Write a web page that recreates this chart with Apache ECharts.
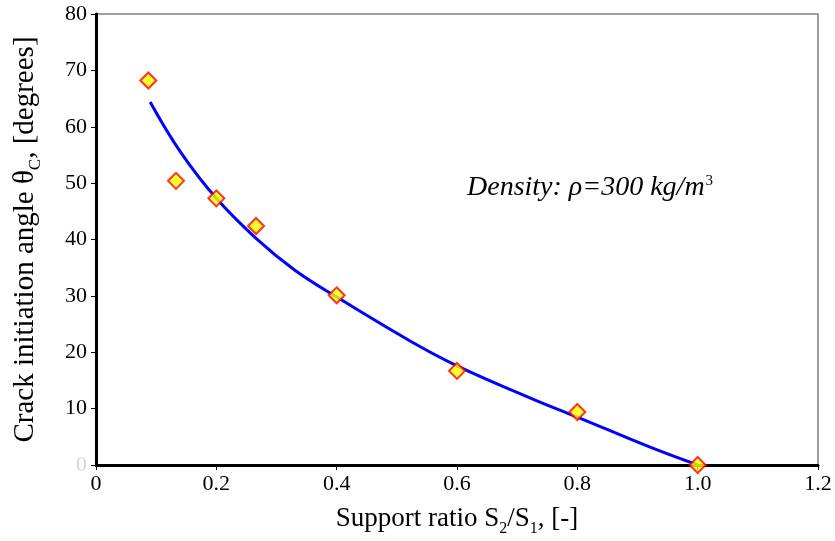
<!DOCTYPE html>
<html><head><meta charset="utf-8">
<script src="https://cdn.jsdelivr.net/npm/echarts@6/dist/echarts.min.js"></script>
<style>html,body{margin:0;padding:0;background:#fff}#c{width:835px;height:541px}</style>
</head><body><div id="c"></div>
<script>
// measured points
var ratioX = [0.087, 0.133, 0.200, 0.266, 0.400, 0.600, 0.800, 1.000];
var angleY = [68.2, 50.4, 47.3, 42.4, 30.1, 16.7, 9.4, 0.0];
// fitted curve
var curveX = [0.090, 0.140, 0.200, 0.266, 0.330, 0.400, 0.522, 0.600, 0.726, 0.800, 0.920, 1.000];
var curveY = [64.4, 55.6, 47.3, 40.2, 34.6, 29.8, 22.0, 17.6, 11.7, 8.5, 3.2, 0.0];
var xTicks = [0, 0.2, 0.4, 0.6, 0.8, 1.0, 1.2];
var yTicks = [0, 10, 20, 30, 40, 50, 60, 70, 80];

var font = '"Liberation Serif", "Times New Roman", serif';
var chart = echarts.init(document.getElementById('c'));
chart.setOption({
  animation: false,
  backgroundColor: '#fff',
  grid: {left: 96, right: 17, top: 14, bottom: 76, show: true, borderColor: '#808080', borderWidth: 1.5,
         containLabel: false, outerBoundsMode: 'none'},
  title: {
    left: 462, top: 169,
    text: '{i|Density: ρ=300 kg/m}{sup|3}',
    textStyle: {
      fontWeight: 'normal',
      rich: {
        i: {fontFamily: font, fontStyle: 'italic', fontWeight: 'normal', fontSize: 28, color: '#000'},
        sup: {fontFamily: font, fontStyle: 'normal', fontWeight: 'normal', fontSize: 15, color: '#000', verticalAlign: 'top', padding: [0,0,12,1]}
      }
    }
  },
  xAxis: {
    type: 'value', min: 0, max: 1.2, interval: 0.2,
    axisLine: {show: true, lineStyle: {color: '#000', width: 3}},
    axisTick: {show: true, length: 5, lineStyle: {color: '#000', width: 1}},
    splitLine: {show: false},
    axisLabel: {fontFamily: font, fontSize: 22, color: '#000', margin: 8,
      formatter: function (v) { return v === 0 ? '0' : v.toFixed(1); }},
    name: '{a|Support ratio S}{s|2}{a|/S}{s|1}{a|, [-]}',
    nameLocation: 'middle', nameGap: 36,
    nameTextStyle: {rich: {
      a: {fontFamily: font, fontSize: 27, color: '#000'},
      s: {fontFamily: font, fontSize: 16, color: '#000', verticalAlign: 'bottom', padding: [10,0,0,0], lineHeight: 36}
    }}
  },
  yAxis: {
    type: 'value', min: 0, max: 80, interval: 10,
    axisLine: {show: true, lineStyle: {color: '#000', width: 3}},
    axisTick: {show: true, length: 5, lineStyle: {color: '#000', width: 1}},
    splitLine: {show: false},
    axisLabel: {fontFamily: font, fontSize: 22, margin: 9,
      color: function (v) { return Number(v) === 0 ? '#d8d8d8' : '#000'; }},
    name: '{a|Crack initiation angle θ}{s|C}{a|, [degrees]}',
    nameLocation: 'middle', nameGap: 52,
    nameTextStyle: {rich: {
      a: {fontFamily: font, fontSize: 29, color: '#000'},
      s: {fontFamily: font, fontSize: 17, color: '#000', verticalAlign: 'bottom', padding: [10,0,0,0], lineHeight: 38}
    }}
  },
  series: [
    {
      type: 'line', smooth: 0.4, showSymbol: false, silent: true, z: 2,
      lineStyle: {color: '#0000ff', width: 3},
      data: curveX.map(function (x, i) { return [x, curveY[i]]; })
    },
    {
      type: 'scatter', symbol: 'diamond', symbolSize: 16, z: 3,
      itemStyle: {color: '#ffff00', borderColor: '#ff0000', borderWidth: 2},
      data: ratioX.map(function (x, i) { return [x, angleY[i]]; })
    }
  ]
});
</script></body></html>
